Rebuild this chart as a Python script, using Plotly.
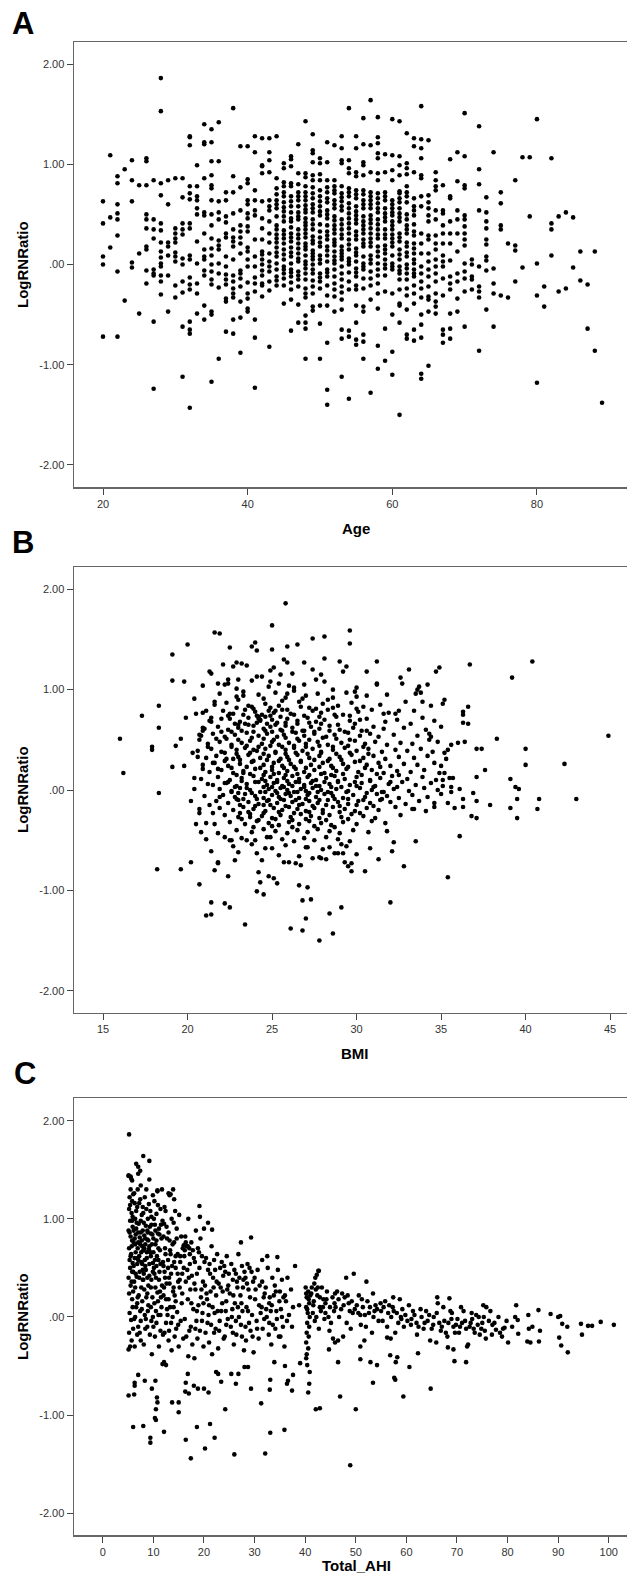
import plotly.graph_objects as go

# ---------------- DATA ----------------
# Panel A: LogRNRatio values read per integer age column
ages_a = [20, 21, 22, 23, 24, 25, 26, 27, 28, 29, 30, 31, 32, 33, 34, 35, 36, 37, 38, 39,
          40, 41, 42, 43, 44, 45, 46, 47, 48, 49, 50, 51, 52, 53, 54, 55, 56, 57, 58, 59,
          60, 61, 62, 63, 64, 65, 66, 67, 68, 69, 70, 71, 72, 73, 74, 75, 76, 77, 78, 79,
          80, 81, 82, 83, 84, 85, 86, 87, 88, 89]
ratio_by_age = [
    [0.63, 0.41, 0.08, 0.0, -0.72],
    [1.09, 0.47, 0.17],
    [0.88, 0.81, 0.60, 0.51, 0.45, 0.29, -0.07, -0.72],
    [0.95, -0.36],
    [1.04, 0.84, 0.63, 0.02, -0.03],
    [0.79, 0.11, -0.49],
    [1.06, 1.03, 0.79, 0.50, 0.45, 0.36, 0.18, 0.15, -0.06, -0.19],
    [0.84, 0.45, 0.35, 0.26, -0.05, -0.09, -0.11, -0.57, -1.24],
    [1.86, 1.53, 0.81, 0.69, 0.41, 0.34, 0.22, 0.13, 0.07, 0.01, -0.02, -0.11, -0.17, -0.30],
    [0.84, 0.60, 0.22, 0.18, 0.09, -0.11, -0.47],
    [0.86, 0.36, 0.31, 0.26, 0.22, 0.12, 0.08, 0.03, -0.21, -0.33],
    [0.86, 0.67, 0.41, 0.35, 0.30, 0.06, 0.00, -0.17, -0.28, -0.62, -1.12],
    [1.28, 1.27, 1.19, 0.78, 0.71, 0.65, 0.41, 0.36, 0.09, 0.05, -0.13, -0.20, -0.25, -0.57, -0.65, -0.69, -1.43],
    [0.99, 0.78, 0.68, 0.64, 0.56, 0.50, 0.23, 0.01, -0.19, -0.29, -0.49],
    [1.40, 1.22, 1.20, 0.86, 0.52, 0.49, 0.31, 0.15, 0.08, 0.05, -0.06, -0.11, -0.41, -0.55],
    [1.35, 1.22, 1.03, 0.89, 0.79, 0.76, 0.64, 0.50, 0.39, 0.26, 0.16, 0.09, 0.00, -0.07, -0.15, -0.20, -0.47, -0.50, -1.17],
    [1.42, 1.03, 0.63, 0.52, 0.45, 0.24, 0.19, 0.15, 0.01, -0.09, -0.23, -0.94],
    [0.72, 0.64, 0.48, 0.42, 0.31, 0.27, 0.08, -0.02, -0.10, -0.15, -0.20, -0.34, -0.37, -0.67],
    [1.56, 0.88, 0.72, 0.51, 0.35, 0.27, 0.23, 0.18, 0.05, -0.11, -0.17, -0.24, -0.29, -0.33, -0.55, -0.69],
    [1.18, 0.77, 0.54, 0.39, 0.33, 0.27, 0.21, 0.11, -0.06, -0.09, -0.14, -0.22, -0.37, -0.53, -0.88],
    [1.18, 0.85, 0.81, 0.64, 0.60, 0.51, 0.46, 0.38, 0.33, 0.17, 0.13, 0.05, -0.02, -0.18, -0.29, -0.34, -0.44, -0.47],
    [1.28, 1.12, 0.74, 0.64, 0.54, 0.49, 0.25, 0.08, -0.02, -0.13, -0.19, -0.27, -0.55, -0.73, -1.23],
    [1.26, 0.99, 0.98, 0.91, 0.63, 0.46, 0.36, 0.25, 0.13, 0.10, 0.05, 0.00, -0.06, -0.11, -0.19, -0.21, -0.32],
    [1.26, 1.12, 1.04, 0.92, 0.64, 0.58, 0.54, 0.43, 0.31, 0.22, 0.11, 0.03, -0.02, -0.07, -0.17, -0.26, -0.82],
    [1.28, 0.86, 0.76, 0.70, 0.64, 0.56, 0.39, 0.35, 0.26, 0.17, 0.08, 0.01, -0.05, -0.12, -0.21,
     0.48, 0.30, 0.12, -0.16, 0.60, 0.22],
    [1.01, 0.96, 0.82, 0.78, 0.68, 0.62, 0.53, 0.43, 0.34, 0.26, 0.21, 0.15, 0.05, -0.02, -0.09, -0.14, -0.21, -0.39,
     0.72, 0.48, 0.30, 0.10, -0.05, 0.57],
    [1.08, 1.05, 0.98, 0.81, 0.78, 0.68, 0.58, 0.46, 0.43, 0.31, 0.23, 0.17, 0.08, 0.01, -0.05, -0.12, -0.18, -0.25, -0.35, -0.66,
     0.63, 0.52, 0.37, 0.12, -0.08, 0.27],
    [1.20, 0.91, 0.72, 0.64, 0.58, 0.52, 0.45, 0.35, 0.26, 0.21, 0.16, 0.11, 0.03, -0.07, -0.15, -0.22, -0.40, -0.58,
     0.80, 0.68, 0.48, 0.30, 0.06, -0.11],
    [1.43, 0.91, 0.87, 0.78, 0.72, 0.64, 0.59, 0.52, 0.46, 0.39, 0.35, 0.27, 0.21, 0.15, 0.09, 0.03, -0.04, -0.09, -0.15, -0.24, -0.29, -0.33, -0.51, -0.58, -0.64, -0.94,
     0.68, 0.55, 0.42, 0.31, 0.18, 0.00],
    [1.30, 1.14, 1.11, 1.02, 0.89, 0.84, 0.77, 0.71, 0.66, 0.60, 0.52, 0.45, 0.35, 0.28, 0.21, 0.11, 0.05, 0.00, -0.09, -0.16, -0.22, -0.29, -0.42, -0.46,
     0.56, 0.40, 0.24, 0.14, 0.08, -0.05],
    [1.06, 1.01, 0.90, 0.84, 0.74, 0.68, 0.58, 0.49, 0.33, 0.27, 0.18, 0.09, 0.01, -0.09, -0.17, -0.24, -0.41, -0.59, -0.94,
     0.63, 0.53, 0.40, 0.22, 0.05, -0.13],
    [1.22, 1.02, 0.84, 0.72, 0.62, 0.54, 0.46, 0.39, 0.33, 0.25, 0.18, 0.09, 0.03, -0.05, -0.12, -0.21, -0.31, -0.41, -0.78, -1.25, -1.40,
     0.77, 0.66, 0.50, 0.29, 0.14, -0.08],
    [1.19, 0.84, 0.78, 0.71, 0.64, 0.56, 0.48, 0.39, 0.31, 0.25, 0.19, 0.13, 0.08, 0.01, -0.05, -0.12, -0.19, -0.25, -0.32, -0.47,
     0.74, 0.60, 0.44, 0.35, 0.22, 0.04],
    [1.28, 1.16, 1.04, 1.01, 0.78, 0.71, 0.63, 0.54, 0.45, 0.35, 0.26, 0.18, 0.11, 0.05, -0.02, -0.09, -0.15, -0.22, -0.28, -0.35, -0.45, -0.65, -0.74, -1.12,
     0.67, 0.58, 0.40, 0.30, 0.14, 0.08],
    [1.56, 1.04, 0.96, 0.91, 0.76, 0.68, 0.61, 0.51, 0.41, 0.31, 0.25, 0.15, 0.06, 0.00, -0.08, -0.17, -0.25, -0.66, -0.72, -1.34,
     0.72, 0.56, 0.46, 0.36, 0.20, 0.03],
    [1.28, 1.16, 0.92, 0.88, 0.74, 0.66, 0.58, 0.49, 0.41, 0.33, 0.25, 0.16, 0.09, 0.03, -0.04, -0.12, -0.21, -0.25, -0.41, -0.58, -0.75, -0.80,
     0.70, 0.53, 0.45, 0.29, 0.12, -0.08],
    [1.46, 1.20, 1.02, 0.99, 0.89, 0.74, 0.64, 0.56, 0.48, 0.39, 0.31, 0.25, 0.18, 0.08, 0.01, -0.05, -0.14, -0.24, -0.42, -0.47, -0.70, -0.77, -0.94,
     0.70, 0.60, 0.43, 0.35, 0.21, -0.02],
    [1.64, 1.19, 0.92, 0.72, 0.64, 0.56, 0.49, 0.41, 0.31, 0.26, 0.18, 0.09, 0.01, -0.07, -0.14, -0.21, -0.35, -1.28,
     0.68, 0.60, 0.45, 0.36, 0.22, 0.05],
    [1.47, 1.27, 1.21, 1.11, 1.06, 0.91, 0.84, 0.71, 0.61, 0.52, 0.45, 0.35, 0.26, 0.18, 0.08, 0.01, -0.11, -0.19, -0.29, -0.44, -0.81, -1.04,
     0.66, 0.56, 0.40, 0.30, 0.13, -0.05],
    [1.10, 0.92, 0.72, 0.64, 0.51, 0.43, 0.35, 0.26, 0.19, 0.11, 0.05, -0.04, -0.11, -0.27, -0.64, -0.96,
     0.68, 0.56, 0.47, 0.30, 0.15, 0.00],
    [1.45, 1.09, 0.94, 0.84, 0.64, 0.56, 0.49, 0.43, 0.35, 0.26, 0.18, 0.09, 0.01, -0.05, -0.29, -0.50, -0.87, -1.10,
     0.60, 0.52, 0.39, 0.30, 0.22, -0.02],
    [1.43, 1.08, 0.99, 0.89, 0.73, 0.71, 0.62, 0.51, 0.43, 0.31, 0.23, 0.15, 0.05, -0.02, -0.09, -0.15, -0.25, -0.39, -0.41, -0.58, -1.50,
     0.66, 0.56, 0.47, 0.27, 0.10, -0.06],
    [1.31, 1.01, 0.96, 0.90, 0.78, 0.72, 0.68, 0.50, 0.39, 0.31, 0.18, 0.08, 0.00, -0.09, -0.15, -0.24, -0.31, -0.45, -0.70, -0.74,
     0.62, 0.45, 0.35, 0.22, 0.12, -0.04],
    [1.26, 1.18, 0.92, 0.66, 0.58, 0.49, 0.29, 0.21, 0.11, 0.01, -0.05, -0.12, -0.21, -0.29, -0.39, -0.65, -0.76,
     0.54, 0.40, 0.33, 0.16, 0.05, -0.09],
    [1.58, 1.25, 1.16, 1.06, 0.89, 0.86, 0.68, 0.58, 0.31, 0.21, 0.11, -0.02, -0.09, -0.17, -0.24, -0.33, -0.50, -0.60, -0.73, -1.09, -1.14],
    [1.24, 0.69, 0.62, 0.56, 0.49, 0.43, 0.29, 0.25, 0.11, 0.03, -0.05, -0.12, -0.22, -0.32, -0.35, -0.47, -1.01],
    [0.92, 0.84, 0.78, 0.74, 0.54, 0.45, 0.29, 0.21, 0.15, 0.05, -0.02, -0.09, -0.17, -0.29, -0.37, -0.42, -0.49],
    [0.79, 0.54, 0.51, 0.39, 0.31, 0.21, 0.09, 0.03, -0.02, -0.14, -0.31, -0.65, -0.70, -0.78],
    [1.05, 0.68, 0.66, 0.43, 0.31, 0.21, 0.04, -0.12, -0.19, -0.25, -0.49, -0.64, -0.74],
    [1.12, 0.83, 0.54, 0.45, 0.31, 0.13, -0.09, -0.17, -0.34, -0.47],
    [1.51, 1.08, 0.79, 0.76, 0.49, 0.45, 0.38, 0.31, 0.25, 0.19, 0.01, -0.07, -0.14, -0.27, -0.62],
    [0.05, 0.00, -0.12, -0.15, -0.25],
    [1.38, 0.95, 0.80, 0.54, -0.02, -0.22, -0.27, -0.33, -0.86],
    [0.67, 0.52, 0.43, 0.36, 0.25, 0.20, 0.08, 0.04, -0.06, -0.45],
    [1.12, -0.04, -0.19, -0.29, -0.62],
    [0.72, 0.61, 0.39, 0.35, -0.31],
    [0.21, -0.33],
    [0.84, 0.19, 0.14, -0.17],
    [1.07, -0.03],
    [1.07, 0.48],
    [1.45, 0.01, -0.31, -1.18],
    [-0.22, -0.42],
    [1.06, 0.41, 0.35, 0.09],
    [0.48, -0.27],
    [0.52, -0.24],
    [0.47, -0.03],
    [0.13, -0.16],
    [-0.20, -0.64],
    [0.13, -0.86],
    [-1.38],
]

# Panel B: (BMI, LogRNRatio)
points_b = [
    (16.0, 0.51), (16.2, 0.17), (17.3, 0.74), (17.9, 0.43), (17.9, 0.40), (18.2, -0.79), (18.3, 0.84),
    (18.3, 0.62), (18.3, -0.03), (19.1, 1.09), (19.1, 1.35), (19.1, 0.23), (19.3, 0.44), (19.6, 0.51),
    (19.6, -0.79), (19.8, 1.08), (19.8, 0.24), (19.9, 0.72), (20.0, 1.45), (20.2, -0.72), (20.2, -0.11),
    (20.3, 0.37), (20.4, 0.91), (20.4, 0.12), (20.4, 0.01), (20.5, 0.76), (20.5, -0.34), (20.6, 0.33),
    (20.7, 0.50), (20.7, 0.55), (20.7, -0.94), (20.7, -0.19), (20.7, -0.23), (20.8, -0.42), (20.9, 0.59),
    (20.9, 0.62), (20.9, 0.21), (20.9, 1.04), (21.0, -0.06), (21.1, -0.33), (21.1, 0.79), (21.1, -0.49),
    (21.1, -1.25), (21.2, 0.43), (21.2, 0.06), (21.3, -0.15), (21.3, 1.18), (21.4, 1.16), (21.4, -1.24),
    (21.4, -0.61), (21.4, -1.12), (21.4, 0.68), (21.4, 0.72), (21.5, 0.27), (21.5, -0.23), (21.6, 1.57),
    (21.6, -0.80), (21.6, 0.88), (21.6, -0.34), (21.7, 0.51), (21.8, 1.06), (21.8, -0.73), (21.8, -0.72),
    (21.8, 0.21), (21.8, -0.43), (21.9, 1.56), (21.9, -0.07), (22.0, 0.71), (22.0, 0.58), (22.1, 1.25),
    (22.2, -0.47), (22.2, -1.13), (22.2, 0.37), (22.3, 0.07), (22.4, 1.10), (22.4, 1.06), (22.4, -0.86),
    (22.5, 1.42), (22.5, 0.76), (22.5, -0.50), (22.6, -0.50), (22.5, -1.17), (22.6, -0.02), (22.7, 1.23),
    (22.7, 0.31), (22.8, -0.70), (22.9, 1.01), (22.9, 1.27), (22.9, -0.09), (23.0, -0.62), (23.0, 0.65),
    (23.1, -0.23), (23.2, 1.26), (23.3, 0.94), (23.3, 0.17), (23.4, -1.34), (23.4, 0.66), (23.5, -0.50),
    (23.5, 1.24), (23.6, 0.84), (23.7, -0.27), (23.8, -0.54), (23.8, 1.43), (23.8, 1.09), (23.9, 0.40),
    (24.0, 1.47), (24.1, 1.39), (24.1, 1.13), (24.1, 0.74), (24.2, 0.71), (24.3, 0.70), (24.1, -0.63),
    (24.1, -1.01), (24.2, -0.82), (24.3, -0.92), (24.4, -0.70), (24.5, -1.04), (24.5, -0.15), (24.7, -0.47),
    (24.8, -0.86), (24.9, 1.08), (24.9, 1.19), (25.0, 1.64), (25.0, 1.40), (25.0, -0.58), (25.1, -0.88),
    (25.1, 1.22), (25.2, 0.79), (25.3, -0.93), (25.4, -0.65), (25.5, 1.15), (25.7, -0.72), (25.7, 1.30),
    (25.8, 1.86), (25.9, 1.43), (25.9, 0.96), (25.9, 1.27), (26.0, -0.72), (26.1, -1.38), (26.2, 1.16),
    (26.4, -0.73), (26.5, 1.45), (26.6, -0.95), (26.6, -0.66), (26.7, -0.75), (26.8, -1.40), (26.8, -1.10),
    (26.9, 1.27), (27.0, -1.28), (27.1, -0.97), (27.1, -0.57), (27.3, -1.09), (27.4, -0.68), (27.4, 1.51),
    (27.4, 1.20), (27.8, -1.50), (27.8, -0.67), (27.9, -0.68), (28.1, 1.53), (28.1, 1.31), (28.2, -0.69),
    (28.4, -1.23), (28.4, -0.57), (28.6, -1.43), (28.7, -0.63), (28.9, -0.63), (29.0, 1.28), (29.1, -0.54),
    (29.1, -1.17), (29.2, -0.63), (29.3, -0.72), (29.4, 1.23), (29.5, -0.76), (29.6, 1.46), (29.6, 1.59),
    (29.7, -0.73), (29.7, -0.81), (30.0, -0.64), (30.0, 1.02), (30.2, 0.70), (30.5, -0.81), (30.6, 1.18),
    (30.8, -0.58), (31.2, 1.28), (31.2, 1.06), (31.2, 1.05), (31.3, -0.69), (31.6, 0.76), (31.8, -0.41),
    (32.0, -1.12), (32.1, -0.61), (32.2, -0.52), (32.3, 0.76), (32.5, 0.79), (32.6, 1.12), (32.7, 1.06),
    (32.8, -0.76), (33.1, 1.20), (33.2, 0.66), (33.3, -0.19), (33.5, -0.51), (33.5, 0.96), (33.6, 1.00),
    (33.7, 1.03), (33.9, 0.88), (34.2, 1.05), (34.7, 1.18), (34.9, 1.22), (35.2, 0.90), (35.4, -0.87),
    (36.1, -0.46), (36.3, 0.78), (36.3, 0.75), (36.3, 0.67), (36.6, 0.66), (36.6, 0.83), (36.7, 1.25),
    (36.9, -0.03), (37.1, 0.41), (37.4, 0.41), (37.1, 0.13), (37.1, -0.11), (37.1, -0.28), (36.8, -0.26),
    (37.6, 0.20), (37.9, -0.15), (38.3, 0.51), (39.2, 1.12), (39.1, 0.11), (39.1, -0.18), (39.4, 0.03),
    (39.6, 0.01), (39.5, -0.09), (39.5, -0.28), (40.0, 0.41), (40.0, 0.25), (40.4, 1.28), (40.8, -0.09),
    (40.7, -0.19), (42.3, 0.26), (43.0, -0.09), (44.9, 0.54),
    (34.4, 0.53), (34.3, 0.50), (35.2, 0.37), (35.4, 0.40), (34.9, 0.17), (35.1, 0.10), (35.6, 0.03),
    (35.7, 0.12), (34.6, -0.17), (35.4, -0.13), (35.8, -0.18), (36.0, 0.47), (36.4, 0.48), (36.1, 0.01),
    (36.3, -0.09), (36.3, -0.17),
    (21.9, 0.96), (22.9, 0.93), (23.3, 0.98), (24.2, 0.95), (25.2, 0.97), (25.8, 0.92), (26.3, 0.99),
    (27.0, 0.94), (27.7, 0.96), (28.6, 0.92), (29.4, 0.97), (30.0, 0.93), (31.8, 0.95), (33.8, 0.97),
    (22.2, 1.05), (23.0, 1.10), (24.4, 1.13), (24.8, 1.03), (25.4, 1.06), (26.0, 1.04), (26.3, 1.02),
    (26.9, 1.05), (27.6, 1.10), (27.9, 1.15), (28.1, 1.08), (28.6, 1.00), (29.2, 1.18), (29.9, 0.98),
    (30.6, 0.94),
    (21.6, 0.85), (22.3, 0.87), (23.8, 0.83), (24.6, 0.86), (25.4, 0.84), (26.6, 0.88), (27.2, 0.82),
    (28.0, 0.86), (28.9, 0.84), (29.7, 0.87), (30.4, 0.83), (31.4, 0.85), (32.9, 0.88), (34.4, 0.84),
    (35.1, 0.86),
    (20.9, 0.77), (22.1, 0.79), (22.7, 0.76), (23.4, 0.80), (24.0, 0.78), (24.4, 0.75), (24.8, 0.79),
    (25.1, 0.77), (25.6, 0.80), (26.1, 0.76), (27.4, 0.79), (27.9, 0.77), (28.3, 0.80), (29.2, 0.75),
    (30.1, 0.78), (30.9, 0.80), (31.9, 0.77), (33.4, 0.79),
    (21.3, 0.69), (22.5, 0.71), (23.1, 0.68), (23.6, 0.72), (24.3, 0.69), (24.6, 0.73), (25.0, 0.70),
    (25.3, 0.67), (25.9, 0.71), (26.5, 0.69), (27.1, 0.72), (27.6, 0.68), (28.1, 0.70), (28.8, 0.73),
    (29.6, 0.69), (30.6, 0.71), (31.7, 0.68), (32.4, 0.70), (33.9, 0.72), (34.6, 0.69),
    (21.0, 0.61), (21.8, 0.63), (22.4, 0.60), (23.0, 0.62), (23.9, 0.64), (24.5, 0.61), (24.9, 0.63),
    (25.5, 0.60), (25.8, 0.64), (26.2, 0.62), (26.8, 0.59), (27.3, 0.63), (27.8, 0.61), (28.4, 0.64),
    (29.0, 0.60), (29.8, 0.62), (30.3, 0.59), (31.0, 0.63), (31.6, 0.61), (32.8, 0.62), (34.1, 0.60),
    (35.0, 0.63),
    (20.8, 0.54), (21.5, 0.56), (22.2, 0.53), (22.8, 0.55), (23.5, 0.57), (24.2, 0.54), (24.7, 0.56),
    (25.3, 0.53), (25.7, 0.55), (26.4, 0.57), (26.9, 0.54), (27.5, 0.56), (28.2, 0.53), (28.7, 0.55),
    (29.5, 0.57), (30.2, 0.54), (30.8, 0.56), (31.3, 0.53), (32.2, 0.55), (33.6, 0.54), (34.3, 0.56),
    (21.2, 0.46), (21.9, 0.48), (22.6, 0.45), (23.2, 0.47), (23.7, 0.49), (24.4, 0.46), (25.0, 0.48),
    (25.4, 0.45), (26.0, 0.47), (26.6, 0.49), (27.0, 0.46), (27.7, 0.48), (28.3, 0.45), (29.1, 0.47),
    (29.9, 0.49), (30.5, 0.46), (31.1, 0.48), (31.8, 0.45), (32.6, 0.47), (33.3, 0.46), (34.8, 0.48),
    (35.6, 0.45),
    (20.6, 0.39), (21.4, 0.41), (22.0, 0.38), (22.9, 0.40), (23.4, 0.42), (24.1, 0.39), (24.6, 0.41),
    (25.2, 0.38), (25.8, 0.40), (26.3, 0.42), (26.8, 0.39), (27.4, 0.41), (27.9, 0.38), (28.6, 0.40),
    (29.3, 0.42), (30.0, 0.39), (30.7, 0.41), (31.5, 0.38), (32.3, 0.40), (33.0, 0.39), (33.8, 0.41),
    (34.5, 0.38),
    (21.1, 0.32), (21.7, 0.34), (22.3, 0.31), (23.0, 0.33), (23.6, 0.35), (24.3, 0.32), (24.8, 0.34),
    (25.5, 0.31), (25.9, 0.33), (26.5, 0.35), (27.2, 0.32), (27.8, 0.34), (28.4, 0.31), (29.0, 0.33),
    (29.7, 0.35), (30.4, 0.32), (31.0, 0.34), (31.7, 0.31), (32.5, 0.33), (33.4, 0.32), (34.2, 0.34),
    (35.3, 0.31),
    (20.9, 0.25), (21.6, 0.27), (22.4, 0.24), (23.1, 0.26), (23.8, 0.28), (24.5, 0.25), (25.1, 0.27),
    (25.6, 0.24), (26.1, 0.26), (26.7, 0.28), (27.3, 0.25), (28.0, 0.27), (28.5, 0.24), (29.2, 0.26),
    (29.9, 0.28), (30.6, 0.25), (31.3, 0.27), (32.0, 0.24), (32.8, 0.26), (33.6, 0.25), (34.6, 0.27),
    (35.0, 0.24),
    (21.3, 0.18), (22.0, 0.20), (22.7, 0.17), (23.3, 0.19), (24.0, 0.21), (24.6, 0.18), (25.0, 0.20),
    (25.4, 0.17), (25.9, 0.19), (26.4, 0.21), (26.9, 0.18), (27.5, 0.20), (28.1, 0.17), (28.8, 0.19),
    (29.4, 0.21), (30.1, 0.18), (30.9, 0.20), (31.6, 0.17), (32.4, 0.19), (33.2, 0.18), (34.0, 0.20),
    (35.2, 0.17),
    (20.8, 0.11), (21.8, 0.13), (22.5, 0.10), (23.2, 0.12), (23.9, 0.14), (24.4, 0.11), (24.9, 0.13),
    (25.3, 0.10), (25.7, 0.12), (26.2, 0.14), (26.6, 0.11), (27.1, 0.13), (27.6, 0.10), (28.2, 0.12),
    (28.7, 0.14), (29.3, 0.11), (30.0, 0.13), (30.8, 0.10), (31.4, 0.12), (32.1, 0.14), (33.0, 0.11),
    (33.9, 0.13), (34.7, 0.10), (35.5, 0.12),
    (21.5, 0.05), (22.2, 0.07), (22.9, 0.04), (23.5, 0.06), (24.2, 0.08), (24.7, 0.05), (25.1, 0.07),
    (25.6, 0.04), (26.0, 0.06), (26.4, 0.08), (26.9, 0.05), (27.3, 0.07), (27.8, 0.04), (28.4, 0.06),
    (28.9, 0.08), (29.6, 0.05), (30.3, 0.07), (31.1, 0.04), (31.9, 0.06), (32.7, 0.08), (33.5, 0.05),
    (34.4, 0.07), (35.1, 0.04),
    (21.9, 0.01), (22.6, -0.01), (23.1, 0.02), (23.7, 0.00), (24.3, -0.02), (24.8, 0.01), (25.2, -0.01),
    (25.5, 0.02), (25.9, 0.00), (26.3, -0.02), (26.7, 0.01), (27.0, -0.01), (27.4, 0.02), (27.9, 0.00),
    (28.3, -0.02), (28.8, 0.01), (29.5, -0.01), (30.2, 0.02), (30.9, 0.00), (31.5, -0.02), (32.2, 0.01),
    (33.1, -0.01), (34.0, 0.02), (34.8, 0.00), (35.6, -0.02),
    (22.1, -0.05), (22.8, -0.07), (23.4, -0.04), (24.0, -0.06), (24.5, -0.08), (25.0, -0.05), (25.4, -0.07),
    (25.8, -0.04), (26.1, -0.06), (26.6, -0.08), (27.1, -0.05), (27.6, -0.07), (28.1, -0.04), (28.6, -0.06),
    (29.2, -0.08), (29.8, -0.05), (30.5, -0.07), (31.2, -0.04), (31.8, -0.06), (32.5, -0.08), (33.3, -0.05),
    (34.2, -0.07), (35.0, -0.04),
    (21.7, -0.11), (22.4, -0.13), (23.0, -0.10), (23.6, -0.12), (24.2, -0.14), (24.7, -0.11), (25.3, -0.13),
    (25.7, -0.10), (26.2, -0.12), (26.8, -0.14), (27.2, -0.11), (27.7, -0.13), (28.3, -0.10), (28.9, -0.12),
    (29.5, -0.14), (30.1, -0.11), (30.8, -0.13), (31.4, -0.10), (32.0, -0.12), (32.9, -0.14), (33.7, -0.11),
    (34.6, -0.13),
    (21.9, -0.18), (22.7, -0.20), (23.3, -0.17), (23.9, -0.19), (24.6, -0.21), (25.1, -0.18), (25.6, -0.20),
    (26.0, -0.17), (26.5, -0.19), (27.0, -0.21), (27.5, -0.18), (28.0, -0.20), (28.6, -0.17), (29.3, -0.19),
    (29.9, -0.21), (30.6, -0.18), (31.3, -0.20), (32.3, -0.17), (33.4, -0.19), (34.1, -0.21),
    (22.2, -0.25), (23.0, -0.27), (23.7, -0.24), (24.4, -0.26), (25.0, -0.28), (25.5, -0.25), (26.1, -0.27),
    (26.7, -0.24), (27.3, -0.26), (27.8, -0.28), (28.4, -0.25), (29.1, -0.27), (29.7, -0.24), (30.4, -0.26),
    (31.1, -0.28), (32.6, -0.25),
    (22.5, -0.32), (23.4, -0.34), (24.1, -0.31), (24.8, -0.33), (25.4, -0.35), (26.0, -0.32), (26.6, -0.34),
    (27.2, -0.31), (27.9, -0.33), (28.5, -0.35), (29.2, -0.32), (30.0, -0.34), (30.9, -0.31), (31.7, -0.33),
    (22.9, -0.40), (23.8, -0.42), (24.5, -0.39), (25.2, -0.41), (25.9, -0.43), (26.5, -0.40), (27.1, -0.42),
    (27.7, -0.39), (28.4, -0.41), (29.0, -0.43), (29.8, -0.40), (30.7, -0.42),
    (23.2, -0.48), (24.0, -0.50), (24.9, -0.47), (25.6, -0.49), (26.3, -0.51), (26.9, -0.48), (27.5, -0.50),
    (28.2, -0.47), (28.9, -0.49), (29.6, -0.51),
    (22.7, -0.56), (24.6, -0.58), (25.8, -0.55), (27.0, -0.57), (28.0, -0.59), (29.4, -0.56),
    # denser core
    (23.0, 0.90), (24.5, 0.91), (25.6, 0.89), (26.8, 0.91), (28.3, 0.90),
    (22.9, 0.82), (23.9, 0.81), (24.9, 0.82), (25.9, 0.80), (26.7, 0.83), (27.6, 0.81), (28.6, 0.82), (30.0, 0.81),
    (22.4, 0.74), (23.3, 0.75), (24.2, 0.73), (24.9, 0.74), (25.5, 0.73), (26.3, 0.75), (26.9, 0.74), (27.8, 0.73),
    (28.7, 0.75), (29.6, 0.74),
    (22.8, 0.66), (23.6, 0.65), (24.1, 0.67), (24.7, 0.66), (25.2, 0.65), (25.8, 0.67), (26.5, 0.66), (27.2, 0.67),
    (27.9, 0.66), (28.9, 0.65), (29.9, 0.66),
    (22.6, 0.58), (23.2, 0.59), (23.9, 0.58), (24.6, 0.59), (25.0, 0.58), (25.6, 0.59), (26.2, 0.58), (26.9, 0.59),
    (27.5, 0.58), (28.4, 0.59), (29.3, 0.58), (30.6, 0.59),
    (22.3, 0.51), (23.0, 0.50), (23.8, 0.52), (24.5, 0.51), (25.1, 0.50), (25.8, 0.52), (26.5, 0.51), (27.2, 0.50),
    (28.0, 0.52), (28.8, 0.51), (29.6, 0.50),
    (22.6, 0.43), (23.5, 0.44), (24.2, 0.43), (24.9, 0.44), (25.6, 0.43), (26.3, 0.44), (27.0, 0.43), (27.8, 0.44),
    (28.6, 0.43), (29.5, 0.44), (30.4, 0.43),
    (22.9, 0.36), (23.7, 0.37), (24.5, 0.36), (25.2, 0.37), (25.8, 0.36), (26.4, 0.37), (27.1, 0.36), (27.9, 0.37),
    (28.8, 0.36), (29.6, 0.37), (30.7, 0.36),
    (22.2, 0.29), (23.1, 0.30), (23.9, 0.29), (24.7, 0.30), (25.4, 0.29), (26.0, 0.30), (26.7, 0.29), (27.5, 0.30),
    (28.3, 0.29), (29.1, 0.30), (30.2, 0.29),
    (22.6, 0.22), (23.5, 0.23), (24.3, 0.22), (25.0, 0.23), (25.7, 0.22), (26.3, 0.23), (27.0, 0.22), (27.8, 0.23),
    (28.6, 0.22), (29.5, 0.23), (30.5, 0.22), (31.4, 0.23),
    (22.9, 0.15), (23.7, 0.16), (24.5, 0.15), (25.1, 0.16), (25.8, 0.15), (26.5, 0.16), (27.2, 0.15), (27.9, 0.16),
    (28.5, 0.15), (29.2, 0.16), (30.3, 0.15), (31.2, 0.16), (32.5, 0.15),
    (22.4, 0.08), (23.2, 0.09), (24.0, 0.08), (24.6, 0.09), (25.3, 0.08), (25.9, 0.09), (26.6, 0.08), (27.4, 0.09),
    (28.1, 0.08), (28.9, 0.09), (29.9, 0.08), (30.8, 0.09), (32.0, 0.08),
    (22.8, 0.03), (23.5, 0.02), (24.5, 0.03), (25.0, 0.03), (25.7, 0.03), (26.2, 0.04), (26.9, 0.03), (27.6, 0.04),
    (28.5, 0.03), (29.1, 0.03), (30.0, 0.04), (31.0, 0.03), (32.4, 0.03),
    (23.0, -0.03), (23.8, -0.03), (24.6, -0.02), (25.3, -0.03), (26.0, -0.03), (26.5, -0.02), (27.2, -0.03),
    (27.7, -0.02), (28.5, -0.03), (29.4, -0.02), (30.6, -0.03), (31.6, -0.02),
    (23.3, -0.09), (24.1, -0.09), (24.8, -0.10), (25.5, -0.09), (26.4, -0.10), (27.0, -0.09), (27.8, -0.10),
    (28.7, -0.09), (29.5, -0.09), (30.4, -0.10), (31.5, -0.09),
    (23.1, -0.15), (24.0, -0.16), (24.9, -0.15), (25.8, -0.16), (26.6, -0.15), (27.4, -0.16), (28.2, -0.15),
    (29.0, -0.16), (30.0, -0.15), (31.0, -0.16),
    (23.6, -0.22), (24.5, -0.23), (25.4, -0.22), (26.3, -0.23), (27.2, -0.22), (28.0, -0.23), (29.0, -0.22),
    (30.2, -0.23),
    (23.2, -0.29), (24.2, -0.30), (25.2, -0.29), (26.2, -0.30), (27.0, -0.29), (28.2, -0.30), (29.5, -0.29),
    (23.9, -0.37), (25.0, -0.36), (26.2, -0.37), (27.5, -0.36), (28.7, -0.37),
]

# Panel C: (Total_AHI, LogRNRatio)
points_c = [
    (5.2, 1.86), (8.0, 1.64), (9.2, 1.59), (6.6, 1.56), (7.0, 1.53), (7.4, 1.49), (7.0, 1.46), (5.1, 1.44),
    (5.5, 1.43), (9.2, 1.40), (5.8, 1.39), (7.5, 1.34), (10.8, 1.29), (11.7, 1.30), (13.9, 1.30), (13.0, 1.26),
    (13.4, 1.25), (14.1, 1.20), (19.1, 1.13), (19.2, 1.02), (20.8, 0.96), (21.6, 0.89), (20.0, 0.90),
    (29.3, 0.81), (27.3, 0.76), (31.5, 0.58), (32.5, 0.62), (34.5, 0.61), (38.0, 0.52), (49.6, 0.44),
    (48.1, 0.40), (52.1, 0.36), (42.7, 0.47), (42.3, 0.43), (53.4, 0.24), (45.9, 0.24), (57.4, 0.20),
    (58.7, 0.18), (66.1, 0.20), (68.5, 0.19), (81.7, 0.12), (86.1, 0.07), (88.5, 0.03), (90.0, 0.00),
    (90.4, 0.01), (90.8, -0.07), (91.8, -0.10), (91.9, -0.36), (90.2, -0.21), (90.6, -0.29), (94.5, -0.07),
    (94.7, -0.18), (95.9, -0.09), (96.7, -0.09), (98.4, -0.05), (101.0, -0.08), (86.4, -0.14), (84.5, -0.26),
    (83.9, -0.25), (86.2, -0.25), (84.2, -0.12), (84.9, -0.10), (84.1, 0.02), (80.1, -0.26), (78.9, -0.20),
    (77.7, -0.13), (81.5, 0.00), (82.0, -0.03), (82.1, -0.17), (80.9, -0.10), (79.4, -0.11), (72.0, -0.30),
    (69.5, -0.45), (71.8, -0.46), (69.3, -0.33), (68.2, -0.31), (64.8, -0.73), (62.3, -0.37), (59.4, -0.81),
    (60.6, -0.51), (57.6, -0.62), (57.8, -0.64), (57.9, -0.46), (58.2, -0.41), (56.8, -0.39), (56.2, -0.21),
    (54.2, -0.49), (53.4, -0.67), (52.9, -0.46), (50.9, -0.43), (50.9, -0.30), (50.0, -0.94), (48.9, -1.51),
    (46.9, -0.81), (46.5, -0.46), (45.9, -0.26), (46.5, -0.24), (44.7, -0.33), (40.8, -0.68), (40.6, -0.77),
    (40.9, -0.56), (40.4, -0.49), (40.2, -0.42), (42.1, -0.94), (42.9, -0.93), (39.0, -0.47), (37.6, -0.59),
    (37.4, -0.75), (36.6, -0.65), (36.4, -0.68), (35.9, -1.15), (36.0, -0.50), (33.1, -1.18), (33.1, -0.64),
    (33.0, -0.74), (32.1, -1.39), (31.3, -0.88), (29.3, -0.73), (28.0, -0.51), (28.7, -0.51), (26.8, -0.58),
    (26.3, -0.68), (26.0, -1.40), (25.4, -0.58), (24.2, -0.94), (23.4, -0.66), (22.4, -0.56), (22.8, -0.58),
    (22.1, -1.23), (21.2, -1.09), (20.2, -1.34), (20.9, -0.77), (20.0, -0.73), (18.6, -1.12), (18.8, -0.73),
    (18.0, -0.70), (17.4, -1.44), (16.4, -1.25), (16.8, -0.58), (16.4, -0.67), (16.3, -0.76), (17.0, -0.78),
    (15.0, -0.87), (15.0, -0.97), (13.7, -0.87), (12.1, -1.17), (12.1, -0.46), (12.5, -0.49), (10.5, -0.94),
    (10.3, -1.03), (10.5, -1.05), (10.8, -0.87), (10.7, -0.82), (9.7, -0.73), (10.4, -0.65), (9.4, -1.23),
    (9.4, -1.28), (8.3, -0.65), (8.0, -1.11), (7.0, -0.59), (6.3, -0.67), (6.3, -0.70), (6.2, -0.79),
    (6.0, -1.12), (5.1, -0.80),
    (5.1, 1.44), (5.6, 1.41), (5.3, 1.22), (5.8, 1.18), (5.2, 1.10), (5.7, 1.06), (5.4, 0.98), (5.9, 0.92),
    (5.1, 0.88), (5.5, 0.82), (5.8, 0.78), (5.2, 0.70), (5.6, 0.64), (5.3, 0.58), (5.9, 0.55), (5.4, 0.50),
    (5.1, 0.40), (5.7, 0.36), (5.2, 0.24), (5.8, 0.18), (5.3, 0.04), (5.6, -0.03), (5.2, -0.16), (5.7, -0.24),
    (5.4, -0.30), (5.1, -0.33),
    (6.2, 1.26), (7.4, 1.20), (6.8, 1.12), (7.7, 1.04), (6.4, 1.00), (7.1, 0.95), (6.6, 0.90), (7.5, 0.86),
    (6.3, 0.80), (7.0, 0.76), (7.8, 0.72), (6.5, 0.66), (7.2, 0.62), (6.9, 0.60), (7.6, 0.56), (6.1, 0.52),
    (7.3, 0.46), (6.7, 0.41), (7.9, 0.38), (6.4, 0.30), (7.1, 0.22), (6.6, 0.10), (7.4, 0.06), (6.2, -0.02),
    (7.0, -0.10), (6.8, -0.18), (7.5, -0.24), (6.3, -0.30),
    (6.5, 0.84), (7.3, 0.81), (8.2, 0.83), (8.8, 0.79), (9.5, 0.85), (6.9, 0.70), (7.6, 0.66), (8.4, 0.74),
    (9.1, 0.69),
    (8.3, 1.22), (9.1, 1.15), (8.6, 1.10), (9.6, 1.02), (8.1, 0.96), (9.3, 0.92), (8.8, 0.88), (9.8, 0.84),
    (8.4, 0.80), (9.0, 0.78), (9.7, 0.74), (8.2, 0.70), (9.4, 0.66), (8.7, 0.60), (9.9, 0.55), (8.5, 0.48),
    (9.2, 0.42), (8.0, 0.38), (9.5, 0.30), (8.6, 0.20), (9.0, 0.12), (8.3, 0.02), (9.6, -0.04), (8.8, -0.10),
    (9.3, -0.18), (8.1, -0.28), (9.7, -0.38),
    (10.8, 1.28), (10.2, 1.18), (11.4, 1.10), (10.6, 1.05), (11.8, 0.98), (10.3, 0.94), (11.1, 0.90),
    (10.9, 0.85), (11.6, 0.80), (10.4, 0.74), (11.3, 0.68), (10.7, 0.62), (11.9, 0.56), (10.1, 0.50),
    (11.2, 0.46), (10.5, 0.40), (11.7, 0.32), (10.8, 0.25), (11.5, 0.20), (10.2, 0.14), (11.0, 0.02),
    (10.6, -0.06), (11.4, -0.14), (10.3, -0.20), (11.1, -0.30), (11.8, -0.48),
    (13.2, 1.24), (12.4, 1.08), (13.6, 1.00), (12.1, 0.95), (13.0, 0.86), (12.7, 0.80), (13.8, 0.74),
    (12.3, 0.70), (13.4, 0.64), (12.9, 0.58), (13.7, 0.52), (12.2, 0.46), (13.1, 0.40), (12.6, 0.34),
    (13.9, 0.26), (12.5, 0.18), (13.3, 0.10), (12.8, 0.02), (13.5, -0.06), (12.2, -0.16), (13.0, -0.24),
    (13.6, -0.34),
    (14.3, 1.08), (15.1, 1.04), (14.6, 0.90), (15.5, 0.82), (14.1, 0.76), (15.8, 0.70), (14.8, 0.64),
    (15.3, 0.56), (14.4, 0.50), (15.7, 0.44), (14.9, 0.36), (15.2, 0.30), (14.2, 0.22), (15.6, 0.14),
    (14.7, 0.05), (15.4, -0.04), (14.5, -0.12), (15.9, -0.22), (15.0, -0.30),
    (16.0, 0.73), (16.4, 0.76), (16.8, 0.72), (17.1, 0.70), (16.2, 0.68),
    (16.9, 1.00), (16.3, 0.82), (17.5, 0.76), (16.6, 0.72), (17.8, 0.68), (16.1, 0.62), (17.2, 0.54),
    (16.7, 0.48), (17.6, 0.42), (16.4, 0.36), (17.3, 0.28), (16.8, 0.18), (17.9, 0.08), (16.2, -0.02),
    (17.4, -0.10), (16.5, -0.20), (17.7, -0.28), (16.9, -0.40),
    (18.4, 0.88), (19.3, 0.80), (18.8, 0.70), (19.6, 0.62), (18.2, 0.56), (19.1, 0.50), (18.6, 0.44),
    (19.8, 0.36), (18.3, 0.28), (19.4, 0.20), (18.9, 0.12), (19.7, 0.04), (18.5, -0.04), (19.2, -0.14),
    (18.7, -0.22), (19.9, -0.30), (18.1, -0.42),
    (21.5, 0.72), (20.4, 0.60), (21.1, 0.54), (20.8, 0.48), (21.8, 0.40), (20.2, 0.32), (21.3, 0.26),
    (20.6, 0.18), (21.7, 0.10), (20.9, 0.02), (21.4, -0.08), (20.3, -0.16), (21.0, -0.26), (21.6, -0.38),
    (22.6, 0.64), (23.5, 0.56), (22.2, 0.48), (23.8, 0.42), (22.9, 0.34), (23.3, 0.30), (22.4, 0.22),
    (23.6, 0.14), (22.7, 0.06), (23.1, -0.04), (22.3, -0.12), (23.9, -0.22), (22.8, -0.32),
    (24.5, 0.62), (25.4, 0.54), (24.2, 0.46), (25.7, 0.38), (24.8, 0.32), (25.1, 0.24), (24.4, 0.16),
    (25.6, 0.08), (24.7, -0.02), (25.3, -0.10), (24.1, -0.20), (25.9, -0.28),
    (26.8, 0.64), (27.5, 0.52), (26.3, 0.44), (27.8, 0.38), (26.6, 0.30), (27.2, 0.22), (26.1, 0.14),
    (27.6, 0.06), (26.9, 0.00), (27.3, -0.08), (26.4, -0.18), (27.9, -0.34),
    (28.6, 0.54), (29.4, 0.46), (28.2, 0.40), (29.7, 0.36), (28.8, 0.28), (29.1, 0.20), (28.4, 0.10),
    (29.5, 0.02), (28.9, -0.06), (29.2, -0.14), (28.3, -0.24), (29.8, -0.36),
    (30.6, 0.48), (31.5, 0.36), (30.2, 0.28), (31.8, 0.20), (30.9, 0.12), (31.2, 0.04), (30.4, -0.04),
    (31.6, -0.12), (30.8, -0.22),
    (32.6, 0.50), (33.5, 0.40), (32.2, 0.30), (33.8, 0.22), (32.9, 0.14), (33.2, 0.06), (32.4, 0.00),
    (33.6, -0.08), (32.8, -0.18), (33.3, -0.28), (33.9, -0.46),
    (34.6, 0.48), (35.4, 0.38), (34.2, 0.26), (35.7, 0.20), (34.9, 0.16), (35.2, 0.08), (34.4, -0.02),
    (35.6, -0.10), (34.8, -0.20), (35.9, -0.30),
    (36.5, 0.40), (37.2, 0.28), (36.2, 0.16), (37.6, 0.10), (36.8, 0.02), (37.4, -0.10), (38.8, 0.12),
    (40.1, 0.30), (40.6, 0.26), (40.3, 0.20), (40.8, 0.14), (40.2, 0.10), (40.5, 0.04), (40.9, 0.00),
    (40.4, -0.06), (40.7, -0.20), (40.2, -0.26), (40.6, -0.32), (40.3, -0.38),
    (42.6, 0.47), (42.0, 0.40), (41.3, 0.30), (42.4, 0.22), (41.7, 0.16), (42.9, 0.10), (41.5, 0.04),
    (42.2, 0.00), (41.9, -0.04), (42.7, -0.12),
    (41.2, 0.24), (41.6, 0.12), (42.1, 0.28), (43.3, 0.30), (43.6, 0.18), (43.1, 0.06), (43.8, -0.02),
    (44.3, 0.26), (45.4, 0.20), (44.0, 0.14), (45.7, 0.06), (44.6, 0.00), (45.1, -0.06), (44.8, -0.14),
    (45.5, -0.22),
    (46.3, 0.26), (47.8, 0.20), (48.6, 0.14), (47.1, 0.08), (49.4, 0.04), (46.7, 0.00), (48.2, -0.06),
    (49.0, -0.12), (47.5, -0.20),
    (50.6, 0.22), (52.3, 0.16), (51.4, 0.10), (53.7, 0.06), (50.9, 0.02), (54.5, -0.04), (52.0, -0.10),
    (53.2, -0.16), (51.7, -0.24),
    (55.8, 0.16), (57.3, 0.10), (56.4, 0.04), (58.9, 0.00), (55.3, -0.04), (59.5, -0.10), (57.8, -0.16),
    (56.9, -0.22),
    (60.5, 0.12), (62.8, 0.08), (61.6, 0.02), (64.2, -0.04), (60.9, -0.08), (63.4, -0.12), (62.1, -0.18),
    (64.7, -0.24),
    (66.2, 0.14), (68.7, 0.06), (65.4, 0.00), (67.5, -0.04), (69.3, -0.10), (66.8, -0.14), (68.1, -0.20),
    (65.9, -0.26),
    (70.8, 0.10), (72.9, 0.04), (75.3, 0.00), (71.6, -0.04), (74.1, -0.08), (73.3, -0.12), (70.4, -0.16),
    (75.7, -0.22), (72.2, -0.28),
    (71.0, -0.06), (72.5, -0.10), (73.8, 0.02), (74.8, -0.12), (75.2, 0.12), (75.8, 0.10), (76.3, -0.04),
    (74.5, -0.18), (73.0, -0.02),
    (76.6, 0.06), (78.2, 0.00), (77.4, -0.06), (79.1, -0.12), (76.9, -0.18),
    (44.2, 0.18), (46.0, 0.10), (47.3, 0.24), (48.8, 0.06), (50.2, 0.12), (51.0, -0.08), (52.6, 0.04),
    (53.9, 0.12), (55.0, 0.06), (56.2, -0.10), (57.0, 0.00), (58.4, -0.06), (59.2, 0.08), (61.0, -0.02),
    (62.4, -0.10), (63.9, 0.06), (65.0, -0.12), (66.5, -0.06), (67.8, -0.16), (68.9, -0.02), (69.8, -0.08),
    (5.9, 1.02), (6.6, 1.08), (7.2, 1.16), (8.0, 1.06), (8.9, 1.00), (9.6, 0.94), (10.4, 0.88), (11.2, 0.84),
    (6.1, 0.76), (7.7, 0.78), (9.2, 0.72), (10.0, 0.66), (11.0, 0.58), (6.8, 0.54), (8.3, 0.58), (9.9, 0.46),
    (12.0, 0.52), (7.9, 0.48), (6.0, 0.46),
    # denser left part
    (5.5, 1.30), (6.0, 1.25), (6.9, 1.30), (8.6, 1.30), (9.9, 1.24), (5.4, 1.14), (6.3, 1.16), (7.9, 1.12),
    (9.4, 1.08), (10.9, 1.14), (12.2, 1.12),
    (5.8, 0.98), (6.7, 0.96), (7.5, 0.98), (8.5, 0.93), (10.1, 1.00), (11.5, 0.94), (12.6, 0.92), (14.0, 0.96),
    (5.3, 0.86), (6.1, 0.88), (7.0, 0.86), (7.9, 0.88), (8.9, 0.86), (10.0, 0.80), (10.6, 0.78), (12.0, 0.82),
    (13.2, 0.78), (14.6, 0.80),
    (5.7, 0.72), (6.4, 0.74), (7.4, 0.74), (8.0, 0.68), (8.7, 0.66), (9.5, 0.62), (10.3, 0.58), (11.0, 0.70),
    (12.4, 0.64), (13.3, 0.68), (14.4, 0.62),
    (5.5, 0.62), (6.3, 0.60), (7.0, 0.58), (7.8, 0.54), (8.4, 0.52), (9.2, 0.54), (10.6, 0.52), (11.4, 0.54),
    (12.9, 0.50), (14.1, 0.56), (15.3, 0.62),
    (5.8, 0.46), (6.5, 0.44), (7.2, 0.40), (8.1, 0.44), (8.8, 0.40), (9.6, 0.38), (10.2, 0.44), (11.1, 0.38),
    (12.3, 0.40), (13.5, 0.44), (14.8, 0.44), (16.0, 0.50),
    (5.5, 0.32), (6.2, 0.36), (7.6, 0.30), (8.2, 0.28), (9.0, 0.32), (10.4, 0.30), (11.3, 0.26), (12.1, 0.30),
    (13.2, 0.34), (14.0, 0.30), (15.2, 0.38),
    (6.0, 0.26), (6.9, 0.20), (7.8, 0.16), (8.8, 0.24), (9.8, 0.20), (10.9, 0.16), (12.0, 0.22), (13.0, 0.18),
    (14.4, 0.16), (15.7, 0.24),
    (5.9, 0.10), (6.8, 0.14), (7.7, 0.08), (8.9, 0.06), (9.5, 0.10), (10.5, 0.06), (11.6, 0.10), (12.7, 0.08),
    (14.0, 0.10),
    (6.4, 0.00), (7.5, -0.04), (8.5, -0.02), (9.9, 0.00), (11.4, 0.02), (12.5, -0.06), (13.8, 0.00), (14.9, -0.08),
    (6.0, -0.12), (7.3, -0.16), (8.4, -0.12), (10.0, -0.10), (11.9, -0.18), (13.1, -0.14), (14.2, -0.20),
    (17.2, 0.64), (18.0, 0.60), (19.0, 0.66), (20.1, 0.56), (21.2, 0.44), (22.0, 0.58), (23.2, 0.50), (24.0, 0.52),
    (24.9, 0.44), (26.0, 0.48), (27.0, 0.40), (28.0, 0.46), (29.0, 0.50),
    (17.0, 0.40), (18.1, 0.34), (19.5, 0.28), (20.5, 0.24), (21.9, 0.30), (22.5, 0.36), (23.7, 0.26), (24.6, 0.28),
    (25.8, 0.22), (26.5, 0.36), (27.7, 0.30), (28.5, 0.34), (30.0, 0.40), (31.0, 0.32), (32.0, 0.24), (33.0, 0.20),
    (34.0, 0.32), (35.0, 0.26), (36.0, 0.22),
    (17.5, 0.14), (18.6, 0.06), (19.9, 0.14), (21.0, 0.12), (22.1, 0.04), (23.4, 0.06), (24.3, 0.06), (25.5, 0.00),
    (26.7, 0.10), (27.4, 0.14), (28.7, 0.06), (30.1, 0.18), (31.4, 0.10), (32.3, 0.08), (33.4, 0.12), (34.3, 0.06),
    (35.4, 0.00), (36.4, -0.04),
    (17.1, -0.14), (18.3, -0.12), (19.6, -0.04), (20.7, -0.06), (22.0, -0.16), (23.0, -0.14), (24.4, -0.08),
    (25.7, -0.16), (26.3, -0.04), (27.5, -0.20), (28.2, -0.10), (29.6, -0.20), (30.5, -0.12), (31.9, -0.02),
    (32.9, -0.06), (34.1, -0.12), (35.1, -0.20),
    (40.2, 0.24), (40.7, 0.18), (40.4, 0.08), (40.8, -0.10), (40.3, -0.16), (41.0, 0.22), (41.8, 0.34), (42.5, 0.30),
    (42.9, 0.20), (43.5, 0.10), (44.0, 0.04), (44.9, 0.10), (45.8, 0.14), (46.6, 0.18), (47.6, 0.12), (48.4, 0.22),
    (49.2, 0.16), (49.8, 0.08), (50.5, 0.04), (51.2, 0.18), (51.8, 0.02), (52.8, 0.10), (53.5, 0.00), (54.2, 0.08),
    (54.9, 0.14), (55.5, 0.10), (56.6, 0.12), (57.5, 0.06), (58.1, 0.04), (59.0, -0.02), (59.8, 0.02), (60.2, -0.04),
    (61.3, 0.06), (62.0, -0.06), (63.0, 0.00), (63.6, -0.06), (64.5, 0.02), (65.3, -0.08), (66.0, 0.04),
    (67.0, -0.10), (67.3, 0.10), (68.3, -0.06), (69.0, 0.04), (69.6, -0.16), (70.1, -0.02), (70.6, -0.10),
    (71.3, 0.06), (71.8, -0.12), (72.7, -0.06), (73.5, -0.16), (74.3, 0.00), (75.0, -0.06), (75.5, -0.14),
    (77.0, -0.08), (78.5, -0.16), (79.8, -0.04),
]

y_tickvals = [-2, -1, 0, 1, 2]
y_ticktext = ["-2.00", "-1.00", ".00", "1.00", "2.00"]
x_ticks_a = [20, 40, 60, 80]
x_ticks_b = [15, 20, 25, 30, 35, 40, 45]
x_ticks_c = [0, 10, 20, 30, 40, 50, 60, 70, 80, 90, 100]

# ---------------- BUILD ----------------
age_x = []
age_y = []
for a, vals in zip(ages_a, ratio_by_age):
    for v in vals:
        age_x.append(a)
        age_y.append(v)
bmi_x = [p[0] for p in points_b]
bmi_y = [p[1] for p in points_b]
ahi_x = [p[0] for p in points_c]
ahi_y = [p[1] for p in points_c]

W, H = 627, 1594
ML, MR, MT, MB = 74, 0, 42, 59
PW = W - ML - MR
PH = H - MT - MB


def pyf(ypx):
    return (H - MB - ypx) / PH


def pxf(xpx):
    return (xpx - ML) / PW


FONT = "Liberation Sans, Arial, sans-serif"
marker = dict(size=4.6, color="black", line=dict(width=0))

fig = go.Figure()
fig.add_trace(go.Scatter(x=age_x, y=age_y, mode="markers", marker=marker, xaxis="x", yaxis="y",
                         showlegend=False, hoverinfo="skip"))
fig.add_trace(go.Scatter(x=bmi_x, y=bmi_y, mode="markers", marker=marker, xaxis="x2", yaxis="y2",
                         showlegend=False, hoverinfo="skip"))
fig.add_trace(go.Scatter(x=ahi_x, y=ahi_y, mode="markers", marker=marker, xaxis="x3", yaxis="y3",
                         showlegend=False, hoverinfo="skip"))

tickfont = dict(family=FONT, size=11, color="#333333")


def xax(rng, tv, anchor):
    return dict(range=rng, tickvals=tv, ticktext=[str(t) for t in tv], anchor=anchor,
                domain=[0, 1], showline=True, linecolor="#666666", linewidth=1.5, mirror=True,
                ticks="outside", ticklen=6, tickwidth=1, tickcolor="#444444",
                showgrid=False, zeroline=False, tickfont=tickfont, fixedrange=True)


def yax(rng, dom, anchor):
    return dict(range=rng, tickvals=y_tickvals, ticktext=y_ticktext, anchor=anchor, domain=dom,
                showline=True, linecolor="#666666", linewidth=1.5, mirror=False,
                ticks="outside", ticklen=6, tickwidth=1, tickcolor="#444444",
                showgrid=False, zeroline=False, tickfont=tickfont, fixedrange=True)


annots = []


def label(text, xpx, ypx, size, angle=0):
    annots.append(dict(text=text, x=pxf(xpx), y=pyf(ypx), xref="paper", yref="paper",
                       xanchor="center", yanchor="middle", showarrow=False, textangle=angle,
                       font=dict(family=FONT, size=size, color="black")))


label("<b>A</b>", 23, 24, 31)
label("<b>B</b>", 23, 542, 31)
label("<b>C</b>", 25, 1073, 31)
label("<b>Age</b>", 356, 528, 15)
label("<b>BMI</b>", 355, 1053, 15)
label("<b>Total_AHI</b>", 356, 1565, 15)
label("<b>LogRNRatio</b>", 22, 265, 15, -90)
label("<b>LogRNRatio</b>", 22, 790, 15, -90)
label("<b>LogRNRatio</b>", 22, 1317, 15, -90)

fig.update_layout(
    width=W, height=H, autosize=False,
    margin=dict(l=ML, r=MR, t=MT, b=MB, pad=0),
    paper_bgcolor="white", plot_bgcolor="white",
    xaxis=xax([15.99, 92.45], x_ticks_a, "y"),
    yaxis=yax([-2.22, 2.22], [pyf(487), 1.0], "x"),
    xaxis2=xax([13.28, 46.0], x_ticks_b, "y2"),
    yaxis2=yax([-2.219, 2.222], [pyf(1012.7), pyf(567)], "x2"),
    xaxis3=xax([-5.69, 103.6], x_ticks_c, "y3"),
    yaxis3=yax([-2.221, 2.231], [0.0, pyf(1098)], "x3"),
    annotations=annots,
)

fig.write_html(
    "out.html",
    config={"displayModeBar": False, "staticPlot": True},
    post_script="document.body.style.margin='0';document.body.style.padding='0';"
                "document.body.style.overflow='hidden';"
                "document.documentElement.style.overflow='hidden';",
)
